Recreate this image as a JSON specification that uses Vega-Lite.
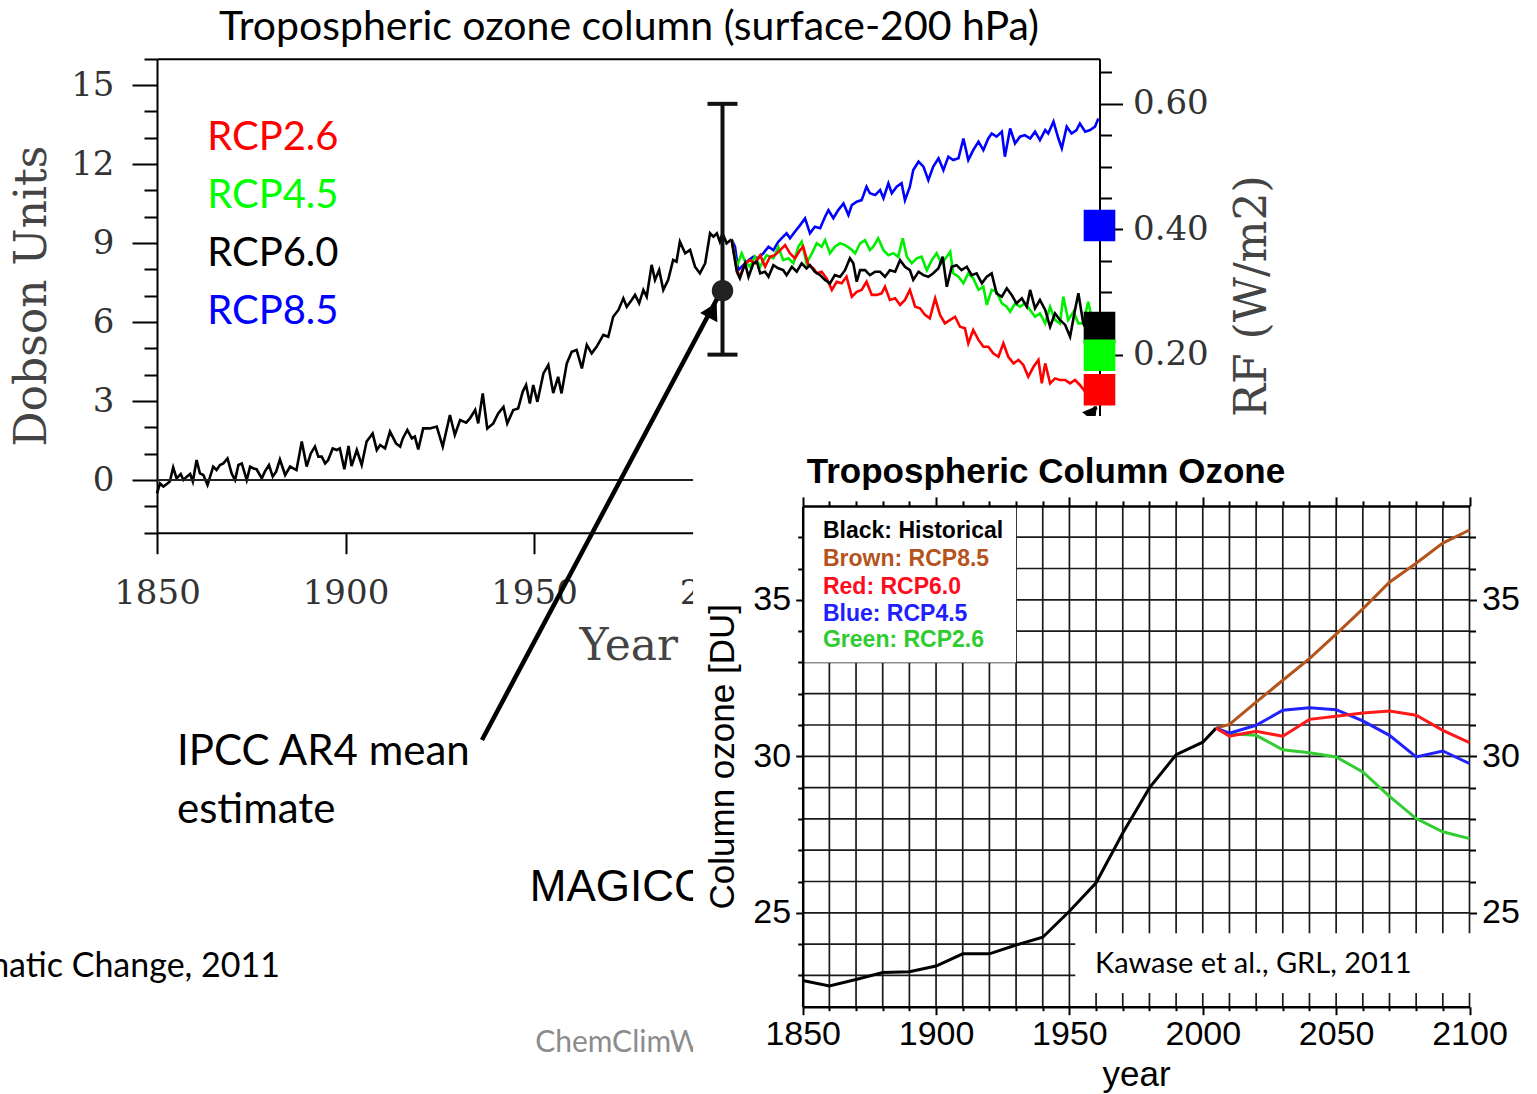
{
"$schema":"https://vega.github.io/schema/vega-lite/v6.json",
"width":1537,"height":1094,"autosize":{"type":"none"},"padding":0,"background":"white",
"config":{"view":{"stroke":null},"axis":{"grid":false,"labelFlush":false,"labelOverlap":false,"domainColor":"#000","tickColor":"#000","labelColor":"#000","titleColor":"#000","titleFontWeight":"normal"}},
"resolve":{"scale":{"x":"independent","y":"independent","color":"independent"},"axis":{"x":"independent","y":"independent"},"legend":{"color":"independent"}},
"datasets":{
"left":[
{"series":"hist","year":1850.0,"du":-0.51},{"series":"hist","year":1850.8,"du":-0.13},{"series":"hist","year":1851.7,"du":-0.25},{"series":"hist","year":1852.6,"du":-0.15},{"series":"hist","year":1853.4,"du":-0.06},{"series":"hist","year":1854.3,"du":0.48},{"series":"hist","year":1855.2,"du":0.06},{"series":"hist","year":1856.3,"du":0.23},{"series":"hist","year":1857.0,"du":0.0},{"series":"hist","year":1857.9,"du":0.13},{"series":"hist","year":1858.8,"du":0.23},{"series":"hist","year":1859.5,"du":-0.06},{"series":"hist","year":1860.5,"du":0.76},{"series":"hist","year":1861.4,"du":0.25},{"series":"hist","year":1862.3,"du":0.19},{"series":"hist","year":1863.4,"du":-0.19},{"series":"hist","year":1864.9,"du":0.51},{"series":"hist","year":1865.8,"du":0.38},{"series":"hist","year":1866.7,"du":0.57},{"series":"hist","year":1867.6,"du":0.63},{"series":"hist","year":1868.7,"du":0.82},{"series":"hist","year":1869.8,"du":0.25},{"series":"hist","year":1870.7,"du":0.0},{"series":"hist","year":1871.6,"du":0.57},{"series":"hist","year":1872.5,"du":0.63},{"series":"hist","year":1873.8,"du":0.0},{"series":"hist","year":1874.7,"du":0.51},{"series":"hist","year":1875.6,"du":0.44},{"series":"hist","year":1876.4,"du":0.41},{"series":"hist","year":1877.8,"du":0.06},{"series":"hist","year":1878.6,"du":0.32},{"series":"hist","year":1879.7,"du":0.57},{"series":"hist","year":1880.7,"du":0.13},{"series":"hist","year":1881.6,"du":0.32},{"series":"hist","year":1882.6,"du":0.78},{"series":"hist","year":1884.0,"du":0.19},{"series":"hist","year":1885.3,"du":0.51},{"series":"hist","year":1887.0,"du":0.38},{"series":"hist","year":1888.4,"du":1.46},{"series":"hist","year":1889.7,"du":0.51},{"series":"hist","year":1890.8,"du":1.01},{"series":"hist","year":1891.9,"du":1.27},{"series":"hist","year":1892.8,"du":0.89},{"series":"hist","year":1893.7,"du":0.89},{"series":"hist","year":1894.6,"du":0.63},{"series":"hist","year":1895.4,"du":0.76},{"series":"hist","year":1896.6,"du":1.2},{"series":"hist","year":1897.7,"du":1.14},{"series":"hist","year":1898.5,"du":1.2},{"series":"hist","year":1899.7,"du":0.41},{"series":"hist","year":1900.8,"du":1.29},{"series":"hist","year":1901.6,"du":0.53},{"series":"hist","year":1903.0,"du":1.14},{"series":"hist","year":1904.3,"du":0.57},{"series":"hist","year":1905.6,"du":1.46},{"series":"hist","year":1907.2,"du":1.77},{"series":"hist","year":1908.3,"du":1.14},{"series":"hist","year":1909.2,"du":1.33},{"series":"hist","year":1910.5,"du":1.2},{"series":"hist","year":1911.8,"du":1.84},{"series":"hist","year":1913.4,"du":1.39},{"series":"hist","year":1914.5,"du":1.27},{"series":"hist","year":1915.2,"du":1.58},{"series":"hist","year":1916.4,"du":1.9},{"series":"hist","year":1917.6,"du":1.58},{"series":"hist","year":1918.4,"du":1.65},{"series":"hist","year":1919.3,"du":1.16},{"series":"hist","year":1920.6,"du":1.96},{"series":"hist","year":1922.4,"du":1.96},{"series":"hist","year":1924.2,"du":2.03},{"series":"hist","year":1925.8,"du":1.27},{"series":"hist","year":1927.7,"du":2.47},{"series":"hist","year":1929.0,"du":1.71},{"series":"hist","year":1930.4,"du":2.28},{"series":"hist","year":1932.0,"du":2.18},{"series":"hist","year":1933.0,"du":2.34},{"series":"hist","year":1934.4,"du":2.66},{"series":"hist","year":1935.2,"du":2.15},{"series":"hist","year":1936.4,"du":3.29},{"series":"hist","year":1937.6,"du":1.96},{"series":"hist","year":1939.2,"du":2.15},{"series":"hist","year":1940.5,"du":2.53},{"series":"hist","year":1941.9,"du":2.78},{"series":"hist","year":1942.9,"du":2.15},{"series":"hist","year":1944.5,"du":2.66},{"series":"hist","year":1945.8,"du":2.72},{"series":"hist","year":1947.0,"du":3.35},{"series":"hist","year":1947.9,"du":3.61},{"series":"hist","year":1948.9,"du":2.91},{"series":"hist","year":1949.8,"du":3.61},{"series":"hist","year":1950.9,"du":2.97},{"series":"hist","year":1952.5,"du":4.05},{"series":"hist","year":1953.8,"du":4.37},{"series":"hist","year":1955.1,"du":3.3},{"series":"hist","year":1956.4,"du":3.92},{"series":"hist","year":1957.3,"du":3.29},{"series":"hist","year":1958.7,"du":4.43},{"series":"hist","year":1960.0,"du":4.87},{"series":"hist","year":1961.3,"du":4.94},{"series":"hist","year":1962.7,"du":4.24},{"series":"hist","year":1964.0,"du":5.13},{"series":"hist","year":1965.3,"du":4.81},{"series":"hist","year":1966.6,"du":5.06},{"series":"hist","year":1968.4,"du":5.51},{"series":"hist","year":1969.7,"du":5.44},{"series":"hist","year":1971.0,"du":6.2},{"series":"hist","year":1972.4,"du":6.46},{"series":"hist","year":1973.7,"du":6.9},{"series":"hist","year":1974.6,"du":6.58},{"series":"hist","year":1975.9,"du":6.84},{"series":"hist","year":1976.8,"du":7.03},{"series":"hist","year":1977.9,"du":6.71},{"series":"hist","year":1979.0,"du":7.22},{"series":"hist","year":1979.9,"du":6.96},{"series":"hist","year":1981.2,"du":8.17},{"series":"hist","year":1982.1,"du":7.6},{"series":"hist","year":1983.2,"du":7.98},{"series":"hist","year":1984.3,"du":7.22},{"series":"hist","year":1985.6,"du":7.6},{"series":"hist","year":1986.9,"du":8.36},{"series":"hist","year":1987.8,"du":8.29},{"series":"hist","year":1988.7,"du":9.05},{"series":"hist","year":1990.1,"du":8.61},{"series":"hist","year":1991.4,"du":8.74},{"series":"hist","year":1992.7,"du":8.1},{"series":"hist","year":1994.0,"du":7.85},{"series":"hist","year":1995.4,"du":8.23},{"series":"hist","year":1996.7,"du":9.37},{"series":"hist","year":1997.6,"du":9.24},{"series":"hist","year":1998.5,"du":9.37},{"series":"hist","year":1999.3,"du":9.05},{"series":"hist","year":2000.0,"du":9.37},{"series":"hist","year":2001.1,"du":8.99},{"series":"hist","year":2002.4,"du":9.14},
{"series":"RCP8.5","year":2002.4,"du":9.14},{"series":"RCP8.5","year":2003.3,"du":8.86},{"series":"RCP8.5","year":2004.2,"du":7.97},{"series":"RCP8.5","year":2005.5,"du":8.16},{"series":"RCP8.5","year":2006.9,"du":8.35},{"series":"RCP8.5","year":2008.2,"du":8.48},{"series":"RCP8.5","year":2009.5,"du":8.42},{"series":"RCP8.5","year":2010.8,"du":8.61},{"series":"RCP8.5","year":2012.2,"du":8.86},{"series":"RCP8.5","year":2013.5,"du":8.73},{"series":"RCP8.5","year":2014.8,"du":9.05},{"series":"RCP8.5","year":2016.1,"du":9.24},{"series":"RCP8.5","year":2017.0,"du":9.37},{"series":"RCP8.5","year":2017.9,"du":9.18},{"series":"RCP8.5","year":2019.2,"du":9.43},{"series":"RCP8.5","year":2020.6,"du":9.68},{"series":"RCP8.5","year":2021.9,"du":9.94},{"series":"RCP8.5","year":2023.2,"du":9.37},{"series":"RCP8.5","year":2024.5,"du":9.62},{"series":"RCP8.5","year":2025.9,"du":9.56},{"series":"RCP8.5","year":2027.2,"du":10.0},{"series":"RCP8.5","year":2028.1,"du":10.25},{"series":"RCP8.5","year":2029.4,"du":9.94},{"series":"RCP8.5","year":2030.7,"du":10.25},{"series":"RCP8.5","year":2032.1,"du":10.5},{"series":"RCP8.5","year":2033.4,"du":10.06},{"series":"RCP8.5","year":2034.3,"du":10.44},{"series":"RCP8.5","year":2035.6,"du":10.57},{"series":"RCP8.5","year":2036.9,"du":10.63},{"series":"RCP8.5","year":2038.2,"du":11.14},{"series":"RCP8.5","year":2039.1,"du":10.89},{"series":"RCP8.5","year":2040.5,"du":10.82},{"series":"RCP8.5","year":2041.8,"du":11.01},{"series":"RCP8.5","year":2042.7,"du":10.7},{"series":"RCP8.5","year":2044.0,"du":11.27},{"series":"RCP8.5","year":2044.9,"du":10.89},{"series":"RCP8.5","year":2046.2,"du":11.14},{"series":"RCP8.5","year":2047.5,"du":11.27},{"series":"RCP8.5","year":2048.4,"du":10.63},{"series":"RCP8.5","year":2049.7,"du":11.14},{"series":"RCP8.5","year":2050.6,"du":11.77},{"series":"RCP8.5","year":2052.0,"du":12.09},{"series":"RCP8.5","year":2053.3,"du":11.9},{"series":"RCP8.5","year":2054.6,"du":11.39},{"series":"RCP8.5","year":2055.9,"du":11.9},{"series":"RCP8.5","year":2057.3,"du":12.22},{"series":"RCP8.5","year":2058.6,"du":11.77},{"series":"RCP8.5","year":2059.9,"du":12.28},{"series":"RCP8.5","year":2061.2,"du":12.15},{"series":"RCP8.5","year":2062.6,"du":12.22},{"series":"RCP8.5","year":2063.9,"du":12.97},{"series":"RCP8.5","year":2065.2,"du":12.15},{"series":"RCP8.5","year":2066.5,"du":12.53},{"series":"RCP8.5","year":2067.9,"du":12.85},{"series":"RCP8.5","year":2069.2,"du":12.53},{"series":"RCP8.5","year":2070.5,"du":12.97},{"series":"RCP8.5","year":2071.4,"du":13.16},{"series":"RCP8.5","year":2072.7,"du":13.04},{"series":"RCP8.5","year":2074.1,"du":13.23},{"series":"RCP8.5","year":2074.9,"du":12.28},{"series":"RCP8.5","year":2076.3,"du":13.35},{"series":"RCP8.5","year":2077.6,"du":12.78},{"series":"RCP8.5","year":2078.9,"du":13.04},{"series":"RCP8.5","year":2080.2,"du":13.1},{"series":"RCP8.5","year":2081.6,"du":12.97},{"series":"RCP8.5","year":2082.9,"du":13.23},{"series":"RCP8.5","year":2084.2,"du":12.91},{"series":"RCP8.5","year":2085.6,"du":13.29},{"series":"RCP8.5","year":2086.4,"du":13.16},{"series":"RCP8.5","year":2087.8,"du":13.61},{"series":"RCP8.5","year":2089.1,"du":12.97},{"series":"RCP8.5","year":2090.0,"du":12.6},{"series":"RCP8.5","year":2091.3,"du":13.42},{"series":"RCP8.5","year":2092.6,"du":13.16},{"series":"RCP8.5","year":2093.9,"du":13.29},{"series":"RCP8.5","year":2094.8,"du":13.54},{"series":"RCP8.5","year":2096.2,"du":13.23},{"series":"RCP8.5","year":2097.5,"du":13.29},{"series":"RCP8.5","year":2098.8,"du":13.42},{"series":"RCP8.5","year":2099.7,"du":13.73},
{"series":"RCP4.5","year":2002.4,"du":9.14},{"series":"RCP4.5","year":2003.8,"du":8.1},{"series":"RCP4.5","year":2005.1,"du":8.61},{"series":"RCP4.5","year":2006.0,"du":8.29},{"series":"RCP4.5","year":2007.3,"du":8.1},{"series":"RCP4.5","year":2008.6,"du":8.48},{"series":"RCP4.5","year":2010.0,"du":8.1},{"series":"RCP4.5","year":2011.7,"du":8.54},{"series":"RCP4.5","year":2013.5,"du":8.42},{"series":"RCP4.5","year":2014.8,"du":8.86},{"series":"RCP4.5","year":2016.1,"du":8.35},{"series":"RCP4.5","year":2017.5,"du":8.42},{"series":"RCP4.5","year":2018.8,"du":8.23},{"series":"RCP4.5","year":2020.1,"du":8.86},{"series":"RCP4.5","year":2021.0,"du":9.05},{"series":"RCP4.5","year":2022.3,"du":8.23},{"series":"RCP4.5","year":2023.7,"du":8.61},{"series":"RCP4.5","year":2025.0,"du":8.99},{"series":"RCP4.5","year":2026.3,"du":8.86},{"series":"RCP4.5","year":2027.2,"du":9.11},{"series":"RCP4.5","year":2028.5,"du":8.61},{"series":"RCP4.5","year":2029.8,"du":8.86},{"series":"RCP4.5","year":2031.2,"du":8.99},{"series":"RCP4.5","year":2032.5,"du":8.92},{"series":"RCP4.5","year":2033.8,"du":8.8},{"series":"RCP4.5","year":2035.2,"du":8.61},{"series":"RCP4.5","year":2036.5,"du":8.99},{"series":"RCP4.5","year":2037.8,"du":9.11},{"series":"RCP4.5","year":2039.1,"du":8.73},{"series":"RCP4.5","year":2040.0,"du":8.86},{"series":"RCP4.5","year":2041.3,"du":9.18},{"series":"RCP4.5","year":2042.7,"du":8.73},{"series":"RCP4.5","year":2044.0,"du":8.54},{"series":"RCP4.5","year":2045.3,"du":8.61},{"series":"RCP4.5","year":2046.6,"du":8.48},{"series":"RCP4.5","year":2047.8,"du":9.18},{"series":"RCP4.5","year":2048.9,"du":8.48},{"series":"RCP4.5","year":2050.2,"du":8.23},{"series":"RCP4.5","year":2051.5,"du":8.42},{"series":"RCP4.5","year":2052.8,"du":8.48},{"series":"RCP4.5","year":2054.2,"du":7.97},{"series":"RCP4.5","year":2055.5,"du":8.35},{"series":"RCP4.5","year":2056.8,"du":8.61},{"series":"RCP4.5","year":2058.1,"du":8.23},{"series":"RCP4.5","year":2059.5,"du":8.48},{"series":"RCP4.5","year":2060.4,"du":8.67},{"series":"RCP4.5","year":2061.2,"du":7.85},{"series":"RCP4.5","year":2062.6,"du":7.72},{"series":"RCP4.5","year":2063.9,"du":7.47},{"series":"RCP4.5","year":2065.2,"du":7.85},{"series":"RCP4.5","year":2066.5,"du":7.66},{"series":"RCP4.5","year":2067.9,"du":7.22},{"series":"RCP4.5","year":2069.2,"du":7.34},{"series":"RCP4.5","year":2070.1,"du":6.65},{"series":"RCP4.5","year":2071.4,"du":7.22},{"series":"RCP4.5","year":2072.7,"du":7.15},{"series":"RCP4.5","year":2074.1,"du":6.71},{"series":"RCP4.5","year":2075.4,"du":6.58},{"series":"RCP4.5","year":2076.3,"du":6.39},{"series":"RCP4.5","year":2077.6,"du":6.71},{"series":"RCP4.5","year":2078.9,"du":6.58},{"series":"RCP4.5","year":2080.2,"du":6.71},{"series":"RCP4.5","year":2081.6,"du":6.46},{"series":"RCP4.5","year":2082.9,"du":6.2},{"series":"RCP4.5","year":2084.2,"du":6.33},{"series":"RCP4.5","year":2085.6,"du":5.95},{"series":"RCP4.5","year":2086.9,"du":6.58},{"series":"RCP4.5","year":2088.2,"du":6.08},{"series":"RCP4.5","year":2089.5,"du":5.95},{"series":"RCP4.5","year":2090.4,"du":6.96},{"series":"RCP4.5","year":2091.7,"du":6.08},{"series":"RCP4.5","year":2093.1,"du":6.39},{"series":"RCP4.5","year":2094.4,"du":5.95},{"series":"RCP4.5","year":2095.7,"du":5.95},{"series":"RCP4.5","year":2097.0,"du":6.77},{"series":"RCP4.5","year":2098.4,"du":5.82},{"series":"RCP4.5","year":2099.3,"du":5.7},
{"series":"RCP2.6","year":2002.4,"du":9.14},{"series":"RCP2.6","year":2003.8,"du":7.97},{"series":"RCP2.6","year":2004.6,"du":7.72},{"series":"RCP2.6","year":2006.0,"du":8.23},{"series":"RCP2.6","year":2007.3,"du":8.35},{"series":"RCP2.6","year":2008.6,"du":8.23},{"series":"RCP2.6","year":2010.0,"du":8.54},{"series":"RCP2.6","year":2011.3,"du":8.1},{"series":"RCP2.6","year":2012.6,"du":8.48},{"series":"RCP2.6","year":2013.9,"du":8.54},{"series":"RCP2.6","year":2015.3,"du":8.73},{"series":"RCP2.6","year":2016.6,"du":8.92},{"series":"RCP2.6","year":2017.9,"du":8.61},{"series":"RCP2.6","year":2019.2,"du":8.42},{"series":"RCP2.6","year":2020.6,"du":8.73},{"series":"RCP2.6","year":2021.4,"du":8.86},{"series":"RCP2.6","year":2022.8,"du":8.16},{"series":"RCP2.6","year":2024.1,"du":8.04},{"series":"RCP2.6","year":2025.0,"du":7.85},{"series":"RCP2.6","year":2026.3,"du":7.91},{"series":"RCP2.6","year":2027.6,"du":7.66},{"series":"RCP2.6","year":2029.0,"du":7.22},{"series":"RCP2.6","year":2030.3,"du":7.53},{"series":"RCP2.6","year":2031.6,"du":7.47},{"series":"RCP2.6","year":2032.9,"du":7.72},{"series":"RCP2.6","year":2034.3,"du":6.96},{"series":"RCP2.6","year":2035.6,"du":7.15},{"series":"RCP2.6","year":2036.9,"du":7.22},{"series":"RCP2.6","year":2038.2,"du":7.53},{"series":"RCP2.6","year":2039.6,"du":7.03},{"series":"RCP2.6","year":2040.9,"du":7.03},{"series":"RCP2.6","year":2042.2,"du":7.09},{"series":"RCP2.6","year":2043.1,"du":7.34},{"series":"RCP2.6","year":2044.4,"du":6.84},{"series":"RCP2.6","year":2045.8,"du":6.9},{"series":"RCP2.6","year":2047.1,"du":6.65},{"series":"RCP2.6","year":2048.4,"du":6.84},{"series":"RCP2.6","year":2049.7,"du":7.22},{"series":"RCP2.6","year":2051.1,"du":6.58},{"series":"RCP2.6","year":2052.4,"du":6.52},{"series":"RCP2.6","year":2053.7,"du":6.27},{"series":"RCP2.6","year":2055.0,"du":6.14},{"series":"RCP2.6","year":2056.4,"du":6.9},{"series":"RCP2.6","year":2057.7,"du":6.27},{"series":"RCP2.6","year":2059.0,"du":5.95},{"series":"RCP2.6","year":2060.4,"du":6.08},{"series":"RCP2.6","year":2061.7,"du":6.2},{"series":"RCP2.6","year":2063.0,"du":5.82},{"series":"RCP2.6","year":2064.3,"du":5.76},{"series":"RCP2.6","year":2065.2,"du":5.19},{"series":"RCP2.6","year":2066.5,"du":5.7},{"series":"RCP2.6","year":2067.9,"du":5.32},{"series":"RCP2.6","year":2069.2,"du":5.06},{"series":"RCP2.6","year":2070.5,"du":5.06},{"series":"RCP2.6","year":2071.8,"du":4.81},{"series":"RCP2.6","year":2073.2,"du":4.68},{"series":"RCP2.6","year":2074.5,"du":5.19},{"series":"RCP2.6","year":2075.8,"du":4.68},{"series":"RCP2.6","year":2077.2,"du":4.43},{"series":"RCP2.6","year":2078.5,"du":4.56},{"series":"RCP2.6","year":2079.8,"du":4.37},{"series":"RCP2.6","year":2081.1,"du":3.92},{"series":"RCP2.6","year":2082.5,"du":4.3},{"series":"RCP2.6","year":2083.8,"du":4.56},{"series":"RCP2.6","year":2084.7,"du":3.67},{"series":"RCP2.6","year":2085.6,"du":4.43},{"series":"RCP2.6","year":2086.9,"du":3.67},{"series":"RCP2.6","year":2088.2,"du":3.86},{"series":"RCP2.6","year":2089.5,"du":3.8},{"series":"RCP2.6","year":2090.9,"du":3.8},{"series":"RCP2.6","year":2092.2,"du":3.67},{"series":"RCP2.6","year":2093.5,"du":3.8},{"series":"RCP2.6","year":2094.8,"du":3.61},{"series":"RCP2.6","year":2096.2,"du":3.35},{"series":"RCP2.6","year":2097.5,"du":3.42},{"series":"RCP2.6","year":2098.8,"du":3.35},
{"series":"RCP6.0","year":2002.4,"du":9.14},{"series":"RCP6.0","year":2003.8,"du":7.91},{"series":"RCP6.0","year":2004.6,"du":7.66},{"series":"RCP6.0","year":2006.0,"du":8.23},{"series":"RCP6.0","year":2006.9,"du":7.72},{"series":"RCP6.0","year":2008.2,"du":8.23},{"series":"RCP6.0","year":2009.1,"du":8.29},{"series":"RCP6.0","year":2010.0,"du":7.85},{"series":"RCP6.0","year":2011.3,"du":7.91},{"series":"RCP6.0","year":2012.2,"du":7.72},{"series":"RCP6.0","year":2013.5,"du":8.16},{"series":"RCP6.0","year":2014.8,"du":8.04},{"series":"RCP6.0","year":2016.1,"du":7.97},{"series":"RCP6.0","year":2017.0,"du":7.78},{"series":"RCP6.0","year":2018.4,"du":8.1},{"series":"RCP6.0","year":2019.7,"du":7.91},{"series":"RCP6.0","year":2021.0,"du":8.23},{"series":"RCP6.0","year":2022.3,"du":8.04},{"series":"RCP6.0","year":2023.2,"du":8.16},{"series":"RCP6.0","year":2024.5,"du":7.91},{"series":"RCP6.0","year":2025.9,"du":7.78},{"series":"RCP6.0","year":2027.2,"du":7.6},{"series":"RCP6.0","year":2028.5,"du":7.47},{"series":"RCP6.0","year":2029.8,"du":7.78},{"series":"RCP6.0","year":2031.2,"du":7.72},{"series":"RCP6.0","year":2032.5,"du":7.97},{"series":"RCP6.0","year":2033.8,"du":8.42},{"series":"RCP6.0","year":2034.7,"du":8.23},{"series":"RCP6.0","year":2035.6,"du":7.53},{"series":"RCP6.0","year":2036.5,"du":7.97},{"series":"RCP6.0","year":2037.8,"du":7.97},{"series":"RCP6.0","year":2039.1,"du":7.78},{"series":"RCP6.0","year":2040.5,"du":7.91},{"series":"RCP6.0","year":2041.8,"du":7.91},{"series":"RCP6.0","year":2043.1,"du":7.72},{"series":"RCP6.0","year":2044.4,"du":7.97},{"series":"RCP6.0","year":2045.8,"du":7.91},{"series":"RCP6.0","year":2047.1,"du":8.35},{"series":"RCP6.0","year":2048.4,"du":8.1},{"series":"RCP6.0","year":2049.7,"du":7.97},{"series":"RCP6.0","year":2050.6,"du":7.6},{"series":"RCP6.0","year":2052.0,"du":7.91},{"series":"RCP6.0","year":2053.3,"du":7.78},{"series":"RCP6.0","year":2054.6,"du":7.72},{"series":"RCP6.0","year":2055.9,"du":7.85},{"series":"RCP6.0","year":2057.3,"du":8.04},{"series":"RCP6.0","year":2058.4,"du":8.48},{"series":"RCP6.0","year":2059.5,"du":7.34},{"series":"RCP6.0","year":2060.8,"du":8.1},{"series":"RCP6.0","year":2062.1,"du":8.16},{"series":"RCP6.0","year":2063.4,"du":7.97},{"series":"RCP6.0","year":2064.8,"du":8.1},{"series":"RCP6.0","year":2066.1,"du":7.78},{"series":"RCP6.0","year":2067.4,"du":7.85},{"series":"RCP6.0","year":2068.8,"du":7.47},{"series":"RCP6.0","year":2070.1,"du":7.72},{"series":"RCP6.0","year":2071.4,"du":7.85},{"series":"RCP6.0","year":2072.7,"du":7.09},{"series":"RCP6.0","year":2074.1,"du":6.96},{"series":"RCP6.0","year":2075.4,"du":7.28},{"series":"RCP6.0","year":2076.7,"du":7.03},{"series":"RCP6.0","year":2078.0,"du":6.71},{"series":"RCP6.0","year":2079.4,"du":6.9},{"series":"RCP6.0","year":2080.7,"du":6.58},{"series":"RCP6.0","year":2081.6,"du":7.22},{"series":"RCP6.0","year":2082.9,"du":6.52},{"series":"RCP6.0","year":2084.2,"du":6.84},{"series":"RCP6.0","year":2085.6,"du":6.46},{"series":"RCP6.0","year":2086.9,"du":5.82},{"series":"RCP6.0","year":2088.2,"du":6.33},{"series":"RCP6.0","year":2089.5,"du":6.08},{"series":"RCP6.0","year":2090.9,"du":5.89},{"series":"RCP6.0","year":2092.2,"du":5.44},{"series":"RCP6.0","year":2093.5,"du":6.46},{"series":"RCP6.0","year":2094.4,"du":7.09},{"series":"RCP6.0","year":2095.7,"du":5.95},{"series":"RCP6.0","year":2096.6,"du":5.7},{"series":"RCP6.0","year":2097.9,"du":5.51},{"series":"RCP6.0","year":2098.8,"du":5.44}
],
"right":[
{"series":"Historical","year":1850,"du":22.84},{"series":"Historical","year":1860,"du":22.66},{"series":"Historical","year":1870,"du":22.87},{"series":"Historical","year":1880,"du":23.09},{"series":"Historical","year":1890,"du":23.12},{"series":"Historical","year":1900,"du":23.3},{"series":"Historical","year":1910,"du":23.69},{"series":"Historical","year":1920,"du":23.69},{"series":"Historical","year":1930,"du":23.97},{"series":"Historical","year":1940,"du":24.22},{"series":"Historical","year":1950,"du":25.05},{"series":"Historical","year":1960,"du":25.96},{"series":"Historical","year":1970,"du":27.55},{"series":"Historical","year":1980,"du":28.99},{"series":"Historical","year":1990,"du":30.05},{"series":"Historical","year":2000,"du":30.45},{"series":"Historical","year":2005,"du":30.9},
{"series":"RCP8.5","year":2005,"du":30.9},{"series":"RCP8.5","year":2010,"du":31.02},{"series":"RCP8.5","year":2020,"du":31.73},{"series":"RCP8.5","year":2030,"du":32.43},{"series":"RCP8.5","year":2040,"du":33.12},{"series":"RCP8.5","year":2050,"du":33.9},{"series":"RCP8.5","year":2060,"du":34.71},{"series":"RCP8.5","year":2070,"du":35.56},{"series":"RCP8.5","year":2080,"du":36.17},{"series":"RCP8.5","year":2090,"du":36.81},{"series":"RCP8.5","year":2100,"du":37.23},
{"series":"RCP2.6","year":2005,"du":30.9},{"series":"RCP2.6","year":2010,"du":30.72},{"series":"RCP2.6","year":2020,"du":30.67},{"series":"RCP2.6","year":2030,"du":30.21},{"series":"RCP2.6","year":2040,"du":30.11},{"series":"RCP2.6","year":2050,"du":29.98},{"series":"RCP2.6","year":2060,"du":29.5},{"series":"RCP2.6","year":2070,"du":28.72},{"series":"RCP2.6","year":2080,"du":28.01},{"series":"RCP2.6","year":2090,"du":27.59},{"series":"RCP2.6","year":2100,"du":27.37},
{"series":"RCP4.5","year":2005,"du":30.9},{"series":"RCP4.5","year":2010,"du":30.74},{"series":"RCP4.5","year":2020,"du":30.99},{"series":"RCP4.5","year":2030,"du":31.47},{"series":"RCP4.5","year":2040,"du":31.55},{"series":"RCP4.5","year":2050,"du":31.49},{"series":"RCP4.5","year":2060,"du":31.13},{"series":"RCP4.5","year":2070,"du":30.67},{"series":"RCP4.5","year":2080,"du":29.98},{"series":"RCP4.5","year":2090,"du":30.17},{"series":"RCP4.5","year":2100,"du":29.77},
{"series":"RCP6.0","year":2005,"du":30.9},{"series":"RCP6.0","year":2010,"du":30.64},{"series":"RCP6.0","year":2020,"du":30.8},{"series":"RCP6.0","year":2030,"du":30.64},{"series":"RCP6.0","year":2040,"du":31.18},{"series":"RCP6.0","year":2050,"du":31.28},{"series":"RCP6.0","year":2060,"du":31.38},{"series":"RCP6.0","year":2070,"du":31.45},{"series":"RCP6.0","year":2080,"du":31.31},{"series":"RCP6.0","year":2090,"du":30.83},{"series":"RCP6.0","year":2100,"du":30.44}
]
},
"layer":[
{"data":{"name":"left"},"mark":{"type":"line","strokeWidth":2.6},
 "encoding":{
  "x":{"field":"year","type":"quantitative","scale":{"domain":[1850,2100],"range":[157,1099.5],"nice":false,"zero":false},
       "axis":{"orient":"bottom","offset":-561.3,"values":[1850,1900,1950,2000,2050,2100],"format":"d","tickSize":21,"tickWidth":2,"domainWidth":2,"labelFont":"DejaVu Serif","labelFontSize":34,"labelColor":"#333","labelPadding":23,"title":"Year","titleFont":"DejaVu Serif","titleFontSize":44,"titleColor":"#444","titlePadding":14}},
  "y":{"field":"du","type":"quantitative","scale":{"domain":[-2,16],"range":[532.7,58.7],"nice":false,"zero":false},
       "axis":{"orient":"left","offset":-157,"values":[0,3,6,9,12,15],"format":"d","tickSize":25,"tickWidth":2,"domainWidth":2,"labelFont":"DejaVu Serif","labelFontSize":34,"labelColor":"#333","labelPadding":18,"title":"Dobson Units","titleFont":"DejaVu Serif","titleFontSize":44,"titleColor":"#444","titlePadding":16}},
  "color":{"field":"series","type":"nominal","scale":{"domain":["hist","RCP8.5","RCP4.5","RCP2.6","RCP6.0"],"range":["#000000","#0000ff","#00ee00","#ff0000","#000000"]},"legend":null}}},
{"data":{"values":[{}]},"mark":{"type":"rule","strokeWidth":2,"color":"#222"},
 "encoding":{
  "x":{"datum":1850,"type":"quantitative","scale":{"domain":[1850,2100],"range":[157,1099.5],"nice":false,"zero":false},"axis":{"orient":"top","offset":-58.7,"ticks":false,"labels":false,"domainWidth":2,"title":null}},
  "x2":{"datum":2100},
  "y":{"datum":0,"type":"quantitative","scale":{"domain":[-2,16],"range":[532.7,58.7],"nice":false,"zero":false},"axis":{"orient":"left","offset":-157,"values":[-2,-1,1,2,4,5,7,8,10,11,13,14,16],"tickSize":13,"tickWidth":2,"labels":false,"domain":false,"title":null}}}},
{"data":{"values":[{"year":2000,"lo":0.2,"hi":0.6,"mean":0.302}]},"mark":{"type":"rule","strokeWidth":4,"color":"#111"},
 "encoding":{
  "x":{"field":"year","type":"quantitative","scale":{"domain":[1850,2100],"range":[157,1099.5],"nice":false,"zero":false},"axis":null},
  "y":{"field":"lo","type":"quantitative","scale":{"domain":[-0.084,0.672],"range":[532.7,58.7],"nice":false,"zero":false},"axis":{"orient":"right","offset":-437.5,"values":[-0.05,0,0.05,0.1,0.15,0.25,0.3,0.35,0.45,0.5,0.55,0.65],"tickSize":12,"tickWidth":2,"labels":false,"domain":false,"title":null}},
  "y2":{"field":"hi"}}},
{"data":{"values":[{"year":2000,"lo":0.2,"hi":0.6}]},"transform":[{"fold":["lo","hi"],"as":["bound","rf"]}],"mark":{"type":"tick","orient":"horizontal","size":30,"thickness":4,"color":"#111","opacity":1},
 "encoding":{
  "x":{"field":"year","type":"quantitative","scale":{"domain":[1850,2100],"range":[157,1099.5],"nice":false,"zero":false},"axis":null},
  "y":{"field":"rf","type":"quantitative","scale":{"domain":[-0.084,0.672],"range":[532.7,58.7],"nice":false,"zero":false},"axis":null}}},
{"data":{"values":[{"year":2000,"mean":0.302}]},"mark":{"type":"circle","size":460,"color":"#222","opacity":1},
 "encoding":{
  "x":{"field":"year","type":"quantitative","scale":{"domain":[1850,2100],"range":[157,1099.5],"nice":false,"zero":false},"axis":null},
  "y":{"field":"mean","type":"quantitative","scale":{"domain":[-0.084,0.672],"range":[532.7,58.7],"nice":false,"zero":false},"axis":null}}},
{"data":{"values":[{"series":"RCP8.5","year":2100,"rf":0.406},{"series":"RCP6.0","year":2100,"rf":0.243},{"series":"RCP4.5","year":2100,"rf":0.199},{"series":"RCP2.6","year":2100,"rf":0.144}]},
 "mark":{"type":"square","size":1000,"opacity":1,"filled":true},
 "encoding":{
  "x":{"field":"year","type":"quantitative","scale":{"domain":[1850,2100],"range":[157,1099.5],"nice":false,"zero":false},"axis":null},
  "y":{"field":"rf","type":"quantitative","scale":{"domain":[-0.084,0.672],"range":[532.7,58.7],"nice":false,"zero":false},
       "axis":{"orient":"right","offset":-437.5,"values":[0.2,0.4,0.6],"format":".2f","tickSize":23,"tickWidth":2,"domainWidth":2,"labelFont":"DejaVu Serif","labelFontSize":34,"labelColor":"#333","labelPadding":10,"title":"RF (W/m2)","titleFont":"DejaVu Serif","titleFontSize":44,"titleColor":"#444","titleAngle":270,"titleBaseline":"top","titlePadding":22}},
  "color":{"field":"series","type":"nominal","scale":{"domain":["RCP2.6","RCP4.5","RCP6.0","RCP8.5"],"range":["#ff0000","#00ff00","#000000","#0000ff"]},"legend":null}}},
{"data":{"values":[{}]},"mark":{"type":"rule","strokeWidth":4.5,"color":"#000"},
 "encoding":{
  "x":{"datum":1936.2,"type":"quantitative","scale":{"domain":[1850,2100],"range":[157,1099.5],"nice":false,"zero":false},"axis":null},
  "x2":{"datum":1998.5},
  "y":{"datum":-9.87,"type":"quantitative","scale":{"domain":[-2,16],"range":[532.7,58.7],"nice":false,"zero":false},"axis":null},
  "y2":{"datum":6.87}}},
{"data":{"values":[{}]},"mark":{"type":"point","shape":"triangle-up","filled":true,"size":380,"angle":28,"color":"#000","opacity":1},
 "encoding":{
  "x":{"datum":1997.4,"type":"quantitative","scale":{"domain":[1850,2100],"range":[157,1099.5],"nice":false,"zero":false},"axis":null},
  "y":{"datum":6.45,"type":"quantitative","scale":{"domain":[-2,16],"range":[532.7,58.7],"nice":false,"zero":false},"axis":null}}},
{"data":{"values":[{}]},"mark":{"type":"rule","strokeWidth":4,"color":"#000"},
 "encoding":{
  "x":{"datum":2085.5,"type":"quantitative","scale":{"domain":[1850,2100],"range":[157,1099.5],"nice":false,"zero":false},"axis":null},
  "x2":{"datum":2099.1},
  "y":{"datum":0.38,"type":"quantitative","scale":{"domain":[-2,16],"range":[532.7,58.7],"nice":false,"zero":false},"axis":null},
  "y2":{"datum":2.77}}},
{"data":{"values":[{}]},"mark":{"type":"point","shape":"triangle-up","filled":true,"size":260,"angle":37,"color":"#000","opacity":1},
 "encoding":{
  "x":{"datum":2098.2,"type":"quantitative","scale":{"domain":[1850,2100],"range":[157,1099.5],"nice":false,"zero":false},"axis":null},
  "y":{"datum":2.6,"type":"quantitative","scale":{"domain":[-2,16],"range":[532.7,58.7],"nice":false,"zero":false},"axis":null}}},
{"data":{"values":[{}]},"mark":{"type":"text","text":"Tropospheric ozone column (surface-200 hPa)","font":"Lato","fontSize":41,"align":"center","baseline":"middle","color":"#000"},
 "encoding":{"x":{"datum":1975.2,"type":"quantitative","scale":{"domain":[1850,2100],"range":[157,1099.5],"nice":false,"zero":false},"axis":null},
  "y":{"datum":17.17,"type":"quantitative","scale":{"domain":[-2,16],"range":[532.7,58.7],"nice":false,"zero":false},"axis":null}}},
{"data":{"values":[{}]},"mark":{"type":"text","text":"RCP2.6","font":"Lato","fontSize":40,"align":"left","baseline":"middle","color":"#ff0000"},
 "encoding":{"x":{"datum":1863.3,"type":"quantitative","scale":{"domain":[1850,2100],"range":[157,1099.5],"nice":false,"zero":false},"axis":null},
  "y":{"datum":12.99,"type":"quantitative","scale":{"domain":[-2,16],"range":[532.7,58.7],"nice":false,"zero":false},"axis":null}}},
{"data":{"values":[{}]},"mark":{"type":"text","text":"RCP4.5","font":"Lato","fontSize":40,"align":"left","baseline":"middle","color":"#00ff00"},
 "encoding":{"x":{"datum":1863.3,"type":"quantitative","scale":{"domain":[1850,2100],"range":[157,1099.5],"nice":false,"zero":false},"axis":null},
  "y":{"datum":10.79,"type":"quantitative","scale":{"domain":[-2,16],"range":[532.7,58.7],"nice":false,"zero":false},"axis":null}}},
{"data":{"values":[{}]},"mark":{"type":"text","text":"RCP6.0","font":"Lato","fontSize":40,"align":"left","baseline":"middle","color":"#000000"},
 "encoding":{"x":{"datum":1863.3,"type":"quantitative","scale":{"domain":[1850,2100],"range":[157,1099.5],"nice":false,"zero":false},"axis":null},
  "y":{"datum":8.58,"type":"quantitative","scale":{"domain":[-2,16],"range":[532.7,58.7],"nice":false,"zero":false},"axis":null}}},
{"data":{"values":[{}]},"mark":{"type":"text","text":"RCP8.5","font":"Lato","fontSize":40,"align":"left","baseline":"middle","color":"#0000ff"},
 "encoding":{"x":{"datum":1863.3,"type":"quantitative","scale":{"domain":[1850,2100],"range":[157,1099.5],"nice":false,"zero":false},"axis":null},
  "y":{"datum":6.38,"type":"quantitative","scale":{"domain":[-2,16],"range":[532.7,58.7],"nice":false,"zero":false},"axis":null}}},
{"data":{"values":[{}]},"mark":{"type":"text","text":"IPCC AR4 mean","font":"Lato","fontSize":42,"align":"left","baseline":"middle","color":"#000000"},
 "encoding":{"x":{"datum":1855.3,"type":"quantitative","scale":{"domain":[1850,2100],"range":[157,1099.5],"nice":false,"zero":false},"axis":null},
  "y":{"datum":-10.33,"type":"quantitative","scale":{"domain":[-2,16],"range":[532.7,58.7],"nice":false,"zero":false},"axis":null}}},
{"data":{"values":[{}]},"mark":{"type":"text","text":"estimate","font":"Lato","fontSize":42,"align":"left","baseline":"middle","color":"#000000"},
 "encoding":{"x":{"datum":1855.3,"type":"quantitative","scale":{"domain":[1850,2100],"range":[157,1099.5],"nice":false,"zero":false},"axis":null},
  "y":{"datum":-12.53,"type":"quantitative","scale":{"domain":[-2,16],"range":[532.7,58.7],"nice":false,"zero":false},"axis":null}}},
{"data":{"values":[{}]},"mark":{"type":"text","text":"MAGICC","font":"Liberation Sans","fontSize":44,"align":"left","baseline":"middle","color":"#000000"},
 "encoding":{"x":{"datum":1948.9,"type":"quantitative","scale":{"domain":[1850,2100],"range":[157,1099.5],"nice":false,"zero":false},"axis":null},
  "y":{"datum":-15.5,"type":"quantitative","scale":{"domain":[-2,16],"range":[532.7,58.7],"nice":false,"zero":false},"axis":null}}},
{"data":{"values":[{}]},"mark":{"type":"text","text":"Climatic Change, 2011","font":"Lato","fontSize":34,"align":"right","baseline":"middle","color":"#000000"},
 "encoding":{"x":{"datum":1882.6,"type":"quantitative","scale":{"domain":[1850,2100],"range":[157,1099.5],"nice":false,"zero":false},"axis":null},
  "y":{"datum":-18.5,"type":"quantitative","scale":{"domain":[-2,16],"range":[532.7,58.7],"nice":false,"zero":false},"axis":null}}},
{"data":{"values":[{}]},"mark":{"type":"text","text":"ChemClimW","font":"Lato","fontSize":30,"align":"left","baseline":"middle","color":"#8c8c8c"},
 "encoding":{"x":{"datum":1950.3,"type":"quantitative","scale":{"domain":[1850,2100],"range":[157,1099.5],"nice":false,"zero":false},"axis":null},
  "y":{"datum":-21.38,"type":"quantitative","scale":{"domain":[-2,16],"range":[532.7,58.7],"nice":false,"zero":false},"axis":null}}},
{"data":{"values":[{}]},"mark":{"type":"rect","fill":"#ffffff","strokeWidth":0},
 "encoding":{
  "x":{"datum":1808.9,"type":"quantitative","scale":{"domain":[1850,2100],"range":[802.7,1469.5],"nice":false,"zero":false},"axis":null},
  "x2":{"datum":2140},
  "y":{"datum":18,"type":"quantitative","scale":{"domain":[22,38],"range":[1006.7,505.9],"nice":false,"zero":false},"axis":null},
  "y2":{"datum":40.87}}},
{"data":{"values":[{"year":1860},{"year":1870},{"year":1880},{"year":1890},{"year":1900},{"year":1910},{"year":1920},{"year":1930},{"year":1940},{"year":1950},{"year":1960},{"year":1970},{"year":1980},{"year":1990},{"year":2000},{"year":2010},{"year":2020},{"year":2030},{"year":2040},{"year":2050},{"year":2060},{"year":2070},{"year":2080},{"year":2090},{"year":2100}]},
 "mark":{"type":"rule","strokeWidth":1.7,"color":"#1a1a1a"},
 "encoding":{
  "x":{"field":"year","type":"quantitative","scale":{"domain":[1850,2100],"range":[802.7,1469.5],"nice":false,"zero":false},
       "axis":{"orient":"top","offset":-505.9,"values":[1860,1870,1880,1890,1910,1920,1930,1940,1960,1970,1980,1990,2010,2020,2030,2040,2060,2070,2080,2090],"tickSize":5,"tickWidth":2,"labels":false,"domain":false,"title":null,"zindex":1}},
  "y":{"datum":22,"type":"quantitative","scale":{"domain":[22,38],"range":[1006.7,505.9],"nice":false,"zero":false},
       "axis":{"orient":"right","offset":-67.5,"values":[26,27,28,29,31,32,33,34,36,37],"tickSize":6,"tickWidth":2,"labels":false,"domain":false,"title":null,"zindex":1}},
  "y2":{"datum":38}}},
{"data":{"values":[{"du":23},{"du":24},{"du":25},{"du":26},{"du":27},{"du":28},{"du":29},{"du":30},{"du":31},{"du":32},{"du":33},{"du":34},{"du":35},{"du":36},{"du":37}]},
 "mark":{"type":"rule","strokeWidth":1.7,"color":"#1a1a1a"},
 "encoding":{
  "x":{"datum":1850,"type":"quantitative","scale":{"domain":[1850,2100],"range":[802.7,1469.5],"nice":false,"zero":false},"axis":null},
  "x2":{"datum":2100},
  "y":{"field":"du","type":"quantitative","scale":{"domain":[22,38],"range":[1006.7,505.9],"nice":false,"zero":false},"axis":null}}},
{"data":{"values":[{}]},"mark":{"type":"rect","fill":"#ffffff","strokeWidth":0},
 "encoding":{
  "x":{"datum":1850,"type":"quantitative","scale":{"domain":[1850,2100],"range":[802.7,1469.5],"nice":false,"zero":false},
       "axis":{"orient":"bottom","offset":-87.3,"values":[1860,1870,1880,1890,1910,1920,1930,1940,1960,1970,1980,1990,2010,2020,2030,2040,2060,2070,2080,2090],"tickSize":4,"tickWidth":2,"labels":false,"domain":false,"title":null,"zindex":1}},
  "x2":{"datum":1930},
  "y":{"datum":33,"type":"quantitative","scale":{"domain":[22,38],"range":[1006.7,505.9],"nice":false,"zero":false},
       "axis":{"orient":"left","offset":-802.7,"values":[23,24,26,27,28,29,31,32,33,34,36,37],"tickSize":5,"tickWidth":2,"labels":false,"domain":false,"title":null,"zindex":1}},
  "y2":{"datum":38}}},
{"data":{"values":[{}]},"mark":{"type":"rect","fill":"#ffffff","strokeWidth":0},
 "encoding":{
  "x":{"datum":1952.2,"type":"quantitative","scale":{"domain":[1850,2100],"range":[802.7,1469.5],"nice":false,"zero":false},
       "axis":{"orient":"top","offset":-505.9,"values":[1850,1900,1950,2000,2050,2100],"tickSize":9,"tickWidth":2,"labels":false,"domainWidth":2.5,"title":null,"zindex":1}},
  "x2":{"datum":2103.5},
  "y":{"datum":22.44,"type":"quantitative","scale":{"domain":[22,38],"range":[1006.7,505.9],"nice":false,"zero":false},
       "axis":{"orient":"right","offset":-67.5,"values":[25,30,35],"format":"d","tickSize":7,"tickWidth":2,"labelFont":"Liberation Sans","labelFontSize":34,"labelPadding":5,"domain":false,"title":null,"zindex":1}},
  "y2":{"datum":24.35}}},
{"data":{"name":"right"},"mark":{"type":"line","strokeWidth":3},
 "encoding":{
  "x":{"field":"year","type":"quantitative","scale":{"domain":[1850,2100],"range":[802.7,1469.5],"nice":false,"zero":false},
       "axis":{"orient":"bottom","offset":-87.3,"values":[1850,1900,1950,2000,2050,2100],"format":"d","tickSize":8,"tickWidth":2,"domainWidth":2.5,"labelFont":"Liberation Sans","labelFontSize":34,"labelPadding":3,"title":"year","titleFont":"Liberation Sans","titleFontSize":35,"titlePadding":6,"zindex":1}},
  "y":{"field":"du","type":"quantitative","scale":{"domain":[22,38],"range":[1006.7,505.9],"nice":false,"zero":false},
       "axis":{"orient":"left","offset":-802.7,"values":[25,30,35],"format":"d","tickSize":7,"tickWidth":2,"domainWidth":2.5,"labelFont":"Liberation Sans","labelFontSize":34,"labelPadding":5,"title":"Column ozone [DU]","titleFont":"Liberation Sans","titleFontSize":35,"titlePadding":12,"zindex":1}},
  "color":{"field":"series","type":"nominal","scale":{"domain":["Historical","RCP8.5","RCP6.0","RCP4.5","RCP2.6"],"range":["#000000","#b4541c","#ff1a1a","#2222ff","#33cc33"]},"legend":null}}},
{"data":{"values":[{}]},"mark":{"type":"text","text":"Tropospheric Column Ozone","font":"Liberation Sans","fontWeight":"bold","fontSize":35,"align":"center","baseline":"middle","color":"#000"},
 "encoding":{"x":{"datum":1941.2,"type":"quantitative","scale":{"domain":[1850,2100],"range":[802.7,1469.5],"nice":false,"zero":false},"axis":null},
  "y":{"datum":39.08,"type":"quantitative","scale":{"domain":[22,38],"range":[1006.7,505.9],"nice":false,"zero":false},"axis":null}}},
{"data":{"values":[{}]},"mark":{"type":"text","text":"Black: Historical","font":"Liberation Sans","fontWeight":"bold","fontSize":23,"align":"left","baseline":"middle","color":"#000000"},
 "encoding":{"x":{"datum":1857.6,"type":"quantitative","scale":{"domain":[1850,2100],"range":[802.7,1469.5],"nice":false,"zero":false},"axis":null},
  "y":{"datum":37.2,"type":"quantitative","scale":{"domain":[22,38],"range":[1006.7,505.9],"nice":false,"zero":false},"axis":null}}},
{"data":{"values":[{}]},"mark":{"type":"text","text":"Brown: RCP8.5","font":"Liberation Sans","fontWeight":"bold","fontSize":23,"align":"left","baseline":"middle","color":"#b4541c"},
 "encoding":{"x":{"datum":1857.6,"type":"quantitative","scale":{"domain":[1850,2100],"range":[802.7,1469.5],"nice":false,"zero":false},"axis":null},
  "y":{"datum":36.31,"type":"quantitative","scale":{"domain":[22,38],"range":[1006.7,505.9],"nice":false,"zero":false},"axis":null}}},
{"data":{"values":[{}]},"mark":{"type":"text","text":"Red: RCP6.0","font":"Liberation Sans","fontWeight":"bold","fontSize":23,"align":"left","baseline":"middle","color":"#ff0a1e"},
 "encoding":{"x":{"datum":1857.6,"type":"quantitative","scale":{"domain":[1850,2100],"range":[802.7,1469.5],"nice":false,"zero":false},"axis":null},
  "y":{"datum":35.41,"type":"quantitative","scale":{"domain":[22,38],"range":[1006.7,505.9],"nice":false,"zero":false},"axis":null}}},
{"data":{"values":[{}]},"mark":{"type":"text","text":"Blue: RCP4.5","font":"Liberation Sans","fontWeight":"bold","fontSize":23,"align":"left","baseline":"middle","color":"#2020ff"},
 "encoding":{"x":{"datum":1857.6,"type":"quantitative","scale":{"domain":[1850,2100],"range":[802.7,1469.5],"nice":false,"zero":false},"axis":null},
  "y":{"datum":34.55,"type":"quantitative","scale":{"domain":[22,38],"range":[1006.7,505.9],"nice":false,"zero":false},"axis":null}}},
{"data":{"values":[{}]},"mark":{"type":"text","text":"Green: RCP2.6","font":"Liberation Sans","fontWeight":"bold","fontSize":23,"align":"left","baseline":"middle","color":"#2ecc2e"},
 "encoding":{"x":{"datum":1857.6,"type":"quantitative","scale":{"domain":[1850,2100],"range":[802.7,1469.5],"nice":false,"zero":false},"axis":null},
  "y":{"datum":33.72,"type":"quantitative","scale":{"domain":[22,38],"range":[1006.7,505.9],"nice":false,"zero":false},"axis":null}}},
{"data":{"values":[{}]},"mark":{"type":"text","text":"Kawase et al., GRL, 2011","font":"Lato","fontSize":29,"align":"left","baseline":"middle","color":"#000000"},
 "encoding":{"x":{"datum":1959.6,"type":"quantitative","scale":{"domain":[1850,2100],"range":[802.7,1469.5],"nice":false,"zero":false},"axis":null},
  "y":{"datum":23.36,"type":"quantitative","scale":{"domain":[22,38],"range":[1006.7,505.9],"nice":false,"zero":false},"axis":null}}}
]
}
